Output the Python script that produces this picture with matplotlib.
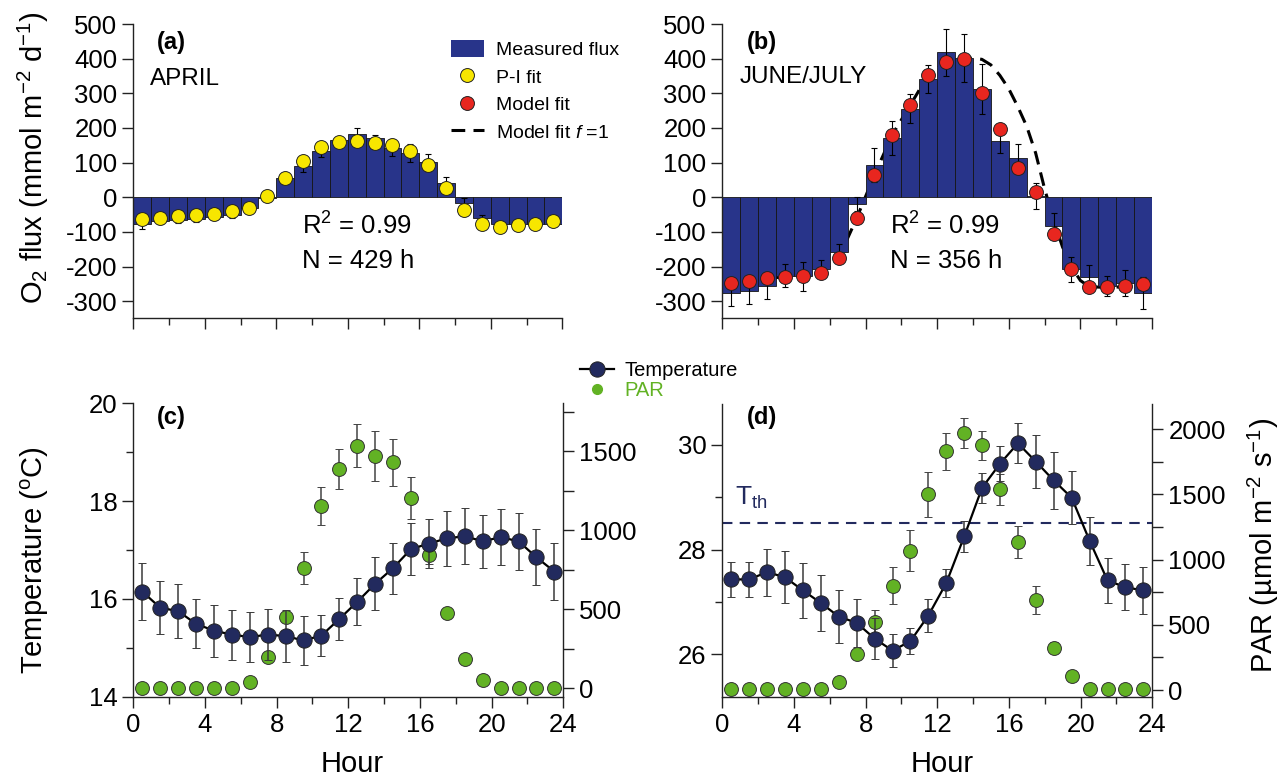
import matplotlib
matplotlib.use("Agg")
import matplotlib.pyplot as plt
from matplotlib.lines import Line2D
from matplotlib.patches import Patch
from matplotlib.ticker import MultipleLocator

plt.rcParams['font.family'] = ['Liberation Sans', 'DejaVu Sans']
plt.rcParams['mathtext.fontset'] = 'custom'
plt.rcParams['mathtext.rm'] = 'Liberation Sans'
plt.rcParams['mathtext.it'] = 'Liberation Sans:italic'
plt.rcParams['mathtext.bf'] = 'Liberation Sans:bold'
plt.rcParams['axes.unicode_minus'] = False

# hour of day (bin centres)
hours = [0.5, 1.5, 2.5, 3.5, 4.5, 5.5, 6.5, 7.5, 8.5, 9.5, 10.5, 11.5,
         12.5, 13.5, 14.5, 15.5, 16.5, 17.5, 18.5, 19.5, 20.5, 21.5, 22.5, 23.5]

# (a) April O2 flux
a_flux = [-78, -68, -65, -62, -58, -52, -32, -3, 55, 89, 133, 165,
          182, 170, 143, 128, 101, 41, -17, -61, -76, -76, -76, -76]
a_err = [12, 8, 8, 8, 8, 8, 8, 5, 8, 16, 17, 10,
         19, 10, 25, 27, 24, 19, 15, 10, 8, 8, 8, 8]
a_pifit = [-63, -59, -54, -50, -47, -39, -30, 5, 57, 106, 146, 159,
           162, 157, 150, 133, 94, 28, -37, -78, -85, -81, -76, -69]

# (b) June/July O2 flux
b_flux = [-275, -270, -257, -226, -228, -207, -158, -20, 92, 170, 256, 342,
          419, 402, 313, 162, 114, 3, -82, -208, -229, -256, -247, -276]
b_err = [39, 37, 37, 34, 41, 26, 23, 20, 49, 49, 43, 41,
         68, 70, 73, 35, 39, 37, 37, 35, 34, 28, 37, 45]
b_model = [-246, -240, -234, -229, -226, -218, -175, -61, 65, 181, 266, 353,
           390, 398, 301, 198, 84, 15, -105, -207, -260, -260, -255, -250]
f1_hours = [0.5, 1.5, 2.5, 3.5, 4.5, 5.5, 6.5, 7.5, 8.5, 9.5, 10.5, 11.5, 12.5,
            13.5, 14.0, 14.5, 15.0, 15.5, 16.0, 16.5, 17.0, 17.5, 18.0, 18.5,
            19.0, 19.5, 20.0, 20.5, 21.5, 22.5, 23.5]
f1_model = [-246, -240, -234, -229, -226, -218, -175, -61, 65, 181, 266, 353, 390,
            398, 402, 398, 382, 352, 313, 262, 205, 128, 25, -65,
            -143, -200, -240, -258, -260, -258, -252]

# (c) April temperature and PAR
c_temp = [16.15, 15.82, 15.75, 15.49, 15.35, 15.27, 15.22, 15.27, 15.24, 15.15, 15.25, 15.59,
          15.94, 16.31, 16.63, 17.02, 17.13, 17.24, 17.28, 17.18, 17.26, 17.18, 16.85, 16.56]
c_terr = [0.58, 0.54, 0.55, 0.50, 0.53, 0.51, 0.52, 0.52, 0.53, 0.51, 0.42, 0.43,
          0.48, 0.54, 0.52, 0.53, 0.50, 0.56, 0.57, 0.54, 0.57, 0.58, 0.57, 0.58]
c_par = [5, 5, 5, 5, 5, 5, 40, 198, 452, 760, 1154, 1386,
         1536, 1470, 1431, 1207, 844, 475, 185, 52, 5, 5, 5, 5]
c_perr = [0, 0, 0, 0, 0, 0, 8, 12, 25, 100, 122, 127,
          137, 160, 150, 133, 60, 30, 12, 8, 0, 0, 0, 0]

# (d) June/July temperature and PAR
d_temp = [27.43, 27.43, 27.57, 27.47, 27.22, 26.98, 26.72, 26.60, 26.30, 26.07, 26.25, 26.74,
          27.36, 28.25, 29.18, 29.64, 30.03, 29.68, 29.32, 28.99, 28.17, 27.41, 27.28, 27.22]
d_terr = [0.33, 0.33, 0.45, 0.50, 0.52, 0.53, 0.50, 0.46, 0.39, 0.32, 0.25, 0.31,
          0.27, 0.29, 0.29, 0.34, 0.38, 0.50, 0.54, 0.51, 0.46, 0.43, 0.44, 0.45]
d_par = [5, 5, 5, 5, 5, 5, 60, 279, 523, 800, 1069, 1500,
         1830, 1974, 1876, 1538, 1133, 692, 325, 108, 5, 5, 5, 5]
d_perr = [0, 0, 0, 0, 0, 0, 15, 30, 90, 141, 159, 172,
          141, 115, 110, 121, 121, 108, 40, 25, 0, 0, 0, 0]
t_th = 28.5

W, H = 1284, 778
navy_bar = '#28348a'
navy = '#222a5e'
yellow = '#f7e600'
red = '#e8261f'
green = '#62b224'


def px(x, y):
    return x / W, 1 - y / H


def box(l, t, r, b):
    return [l / W, 1 - b / H, (r - l) / W, (b - t) / H]


fig = plt.figure(figsize=(12.84, 7.78), dpi=100)

ax_a = fig.add_axes(box(133.3, 24, 562.3, 318.3))
ax_b = fig.add_axes(box(722.3, 24, 1152, 318.3))
ax_c = fig.add_axes(box(133.3, 403.3, 563.3, 696.7))
ax_d = fig.add_axes(box(722.3, 404, 1152.3, 696.7))


def style(ax, right=False):
    ax.spines['top'].set_visible(False)
    ax.spines['right'].set_visible(right)
    for s in ax.spines.values():
        s.set_linewidth(1.0)
        s.set_color('#222222')
    ax.tick_params(which='major', direction='out', length=8, width=1, labelsize=18.5, color='#222222')
    ax.tick_params(which='minor', direction='out', length=5, width=1, color='#222222')
    ax.set_xlim(0, 24)
    ax.xaxis.set_major_locator(MultipleLocator(4))
    ax.xaxis.set_minor_locator(MultipleLocator(2))


# top panels
for ax, flux, err in [(ax_a, a_flux, a_err), (ax_b, b_flux, b_err)]:
    style(ax)
    ax.bar(hours, flux, width=1.0, color=navy_bar, edgecolor='#151515', linewidth=0.6,
           yerr=err, error_kw=dict(ecolor='black', elinewidth=0.8, capsize=2.5, capthick=0.8), zorder=2)
    ax.set_ylim(-349, 500)
    ax.yaxis.set_major_locator(MultipleLocator(100))
    ax.tick_params(axis='x', labelbottom=False)

ax_a.plot(hours, a_pifit, 'o', ls='none', mfc=yellow, mec='#222222', mew=0.7, ms=10, zorder=4)
ax_b.plot(f1_hours, f1_model, color='black', lw=2.2, ls=(0, (4.5, 2.7)), zorder=1.5)
ax_b.plot(hours, b_model, 'o', ls='none', mfc=red, mec='#222222', mew=0.7, ms=10, zorder=4)

fig.text(*px(157, 49), '(a)', fontsize=17, fontweight='bold', va='baseline')
fig.text(*px(150, 85), 'APRIL', fontsize=17.5, va='baseline')
fig.text(*px(302, 235), 'R$^2$ = 0.99', fontsize=18.5, va='baseline')
fig.text(*px(302, 268), 'N = 429 h', fontsize=18.5, va='baseline')
fig.text(*px(747, 49), '(b)', fontsize=17, fontweight='bold', va='baseline')
fig.text(*px(740, 83), 'JUNE/JULY', fontsize=17.5, va='baseline')
fig.text(*px(890, 235), 'R$^2$ = 0.99', fontsize=18.5, va='baseline')
fig.text(*px(890, 268), 'N = 356 h', fontsize=18.5, va='baseline')

fig.text(*px(33, 158), 'O$_2$ flux (mmol m$^{-2}$ d$^{-1}$)', fontsize=21, rotation=90,
         ha='center', va='center')

top_handles = [
    Patch(facecolor=navy_bar, edgecolor='none'),
    Line2D([], [], ls='none', marker='o', mfc=yellow, mec='#222222', mew=0.7, ms=10),
    Line2D([], [], ls='none', marker='o', mfc=red, mec='#222222', mew=0.7, ms=10),
    Line2D([], [], color='black', lw=2.2, ls=(0, (4.5, 2.7))),
]
fig.legend(top_handles, ['Measured flux', 'P-I fit', 'Model fit', 'Model fit $f$ =1'],
           loc='upper left', bbox_to_anchor=px(443, 32), frameon=False, fontsize=14,
           handlelength=1.7, handleheight=1.0, handletextpad=0.6, labelspacing=0.42,
           borderaxespad=0)

# bottom panels
twins = []
for ax, temp, terr, par, perr in [(ax_c, c_temp, c_terr, c_par, c_perr),
                                  (ax_d, d_temp, d_terr, d_par, d_perr)]:
    style(ax)
    ax.yaxis.set_major_locator(MultipleLocator(2))
    ax.yaxis.set_minor_locator(MultipleLocator(1))
    ax2 = ax.twinx()
    ax2.spines['top'].set_visible(False)
    ax2.spines['left'].set_visible(False)
    ax2.spines['bottom'].set_visible(False)
    ax2.spines['right'].set_linewidth(1.0)
    ax2.spines['right'].set_color('#222222')
    ax2.tick_params(which='major', direction='out', length=8, width=1, labelsize=18.5, color='#222222')
    ax2.tick_params(which='minor', direction='out', length=8, width=1, color='#222222')
    ax2.yaxis.set_major_locator(MultipleLocator(500))
    ax2.yaxis.set_minor_locator(MultipleLocator(250))
    ax2.errorbar(hours, par, yerr=perr, fmt='o', mfc=green, mec='#333333', mew=0.7, ms=10,
                 ecolor='#444444', elinewidth=1.1, capsize=3, capthick=1.1, zorder=3)
    ax.set_zorder(ax2.get_zorder() + 1)
    ax.patch.set_visible(False)
    ax.errorbar(hours, temp, yerr=terr, fmt='-o', color='black', lw=1.6, mfc=navy, mec='#222222',
                mew=0.7, ms=11, ecolor='#3a3a3a', elinewidth=1.1, capsize=3, capthick=1.1, zorder=3)
    twins.append(ax2)

ax_c.set_ylim(14, 20)
twins[0].set_ylim(-53, 1804)
ax_d.set_ylim(25.19, 30.78)
twins[1].set_ylim(-51, 2193)
ax_d.axhline(t_th, color=navy, lw=1.5, ls=(0, (5, 3.5)), zorder=1)

fig.text(*px(157, 424), '(c)', fontsize=17, fontweight='bold', va='baseline')
fig.text(*px(747, 424), '(d)', fontsize=17, fontweight='bold', va='baseline')
fig.text(*px(735, 505), 'T$_{\\mathrm{th}}$', fontsize=19, color=navy, va='baseline')

fig.text(*px(35, 560), 'Temperature ($^{\\mathrm{o}}$C)', fontsize=21, rotation=90, ha='center', va='center')
fig.text(*px(1263, 545), 'PAR (\u00b5mol m$^{-2}$ s$^{-1}$)', fontsize=21, rotation=90,
         ha='center', va='center')
fig.text(*px(352, 764), 'Hour', fontsize=21, ha='center', va='center')
fig.text(*px(942, 764), 'Hour', fontsize=21, ha='center', va='center')

bot_handles = [
    Line2D([], [], color='black', lw=1.6, marker='o', mfc=navy, mec='#222222', mew=0.7, ms=11),
    Line2D([], [], ls='none', marker='o', mfc=green, mec=green, ms=7),
]
leg = fig.legend(bot_handles, ['Temperature', 'PAR'], loc='upper left', bbox_to_anchor=px(572, 353),
                 frameon=False, fontsize=14.5, handlelength=1.7, handletextpad=0.5,
                 labelspacing=0.05, borderaxespad=0)
leg.get_texts()[1].set_color(green)

fig.savefig('out.png', dpi=100)
